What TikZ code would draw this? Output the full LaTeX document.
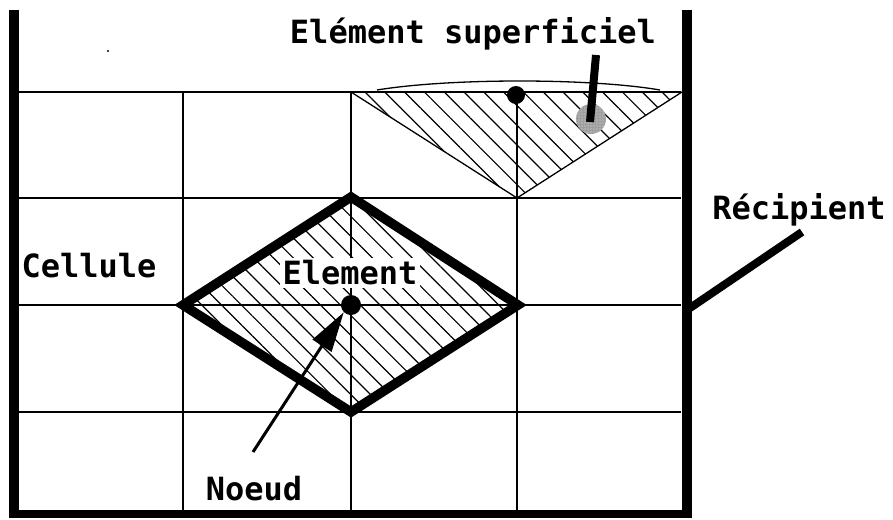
\documentclass[tikz,border=0pt]{standalone}
\usepackage{fontspec}
\newfontfamily\labfont{DejaVu Sans Mono}
\usetikzlibrary{patterns.meta,arrows.meta}
\begin{document}
\begin{tikzpicture}[x=1pt,y=-1pt,
  lab/.style={font=\labfont\bfseries\fontsize{32}{32}\selectfont, inner sep=1pt},
  gridline/.style={line width=1.8pt},
  wall/.style={line width=10pt, line cap=butt},
  hatch/.style={pattern={Lines[angle=-45,distance=14pt,line width=1.2pt]}},
  thinedge/.style={line width=1.3pt},
  bigedge/.style={line width=9.5pt, line join=miter},
  noeud/.style={circle, fill=black, inner sep=0pt, minimum size=#1},
  pointer/.style={line width=8pt, line cap=butt}]
\useasboundingbox (0,0) rectangle (893,519);
% grid points
\coordinate (L) at (183,305);
\coordinate (T) at (351,197);
\coordinate (R) at (518,305);
\coordinate (B) at (351,412);
\coordinate (s1) at (351,92);
\coordinate (s2) at (682,92);
\coordinate (s3) at (517,198);
% hatched surface element
\fill[hatch] (s1) -- (s2) -- (s3) -- cycle;
\draw[thinedge] (s1) -- (s3) -- (s2);
% hatched element
\fill[hatch] (L) -- (T) -- (R) -- (B) -- cycle;
% grid
\foreach \y in {92,198,305,412} \draw[gridline] (18,\y) -- (681,\y);
\foreach \x in {183,351,517} \draw[gridline] (\x,92) -- (\x,510);
% diamond
\draw[bigedge] (L) -- (T) -- (R) -- (B) -- cycle;
% free surface curve
\draw[line width=1.3pt] (377,90) .. controls (450,78) and (590,78) .. (660,90);
% container
\draw[wall] (13.5,10) -- (13.5,518);
\draw[wall] (686.5,10) -- (686.5,518);
\draw[line width=8pt] (8.5,514) -- (691.5,514);
% stray speck
\fill (108,51) circle (1.2);
% nodes
\node[noeud=18pt] (n2) at (516,95) {};
\node[noeud=20pt] (n1) at (351,305) {};
\fill[gray!75] (591,119) circle (15);
\fill[pattern={Dots[distance=3pt,radius=0.7pt]}, pattern color=gray!25] (591,119) circle (15);
\coordinate (sp) at (590,122);
% labels
\node[lab] (sup) at (473,34) {Elément superficiel};
\node[lab] (rec) at (799,210) {Récipient};
\node[lab] (cel) at (89,266) {Cellule};
\node[lab, fill=white, inner sep=3pt] (ele) at (350,273) {Element};
\node[lab] (noe) at (254,489) {Noeud};
% pointers
\coordinate (supt) at (596,55);
\draw[pointer] (supt) -- (sp);
\coordinate (recw) at (690,308);
\coordinate (rect) at (802,232);
\draw[pointer] (recw) -- (rect);
\coordinate (noet) at (253,452);
\draw[line width=3pt, -{Triangle[length=40pt,width=22pt]}] (noet) -- (n1.south west);
\end{tikzpicture}
\end{document}
